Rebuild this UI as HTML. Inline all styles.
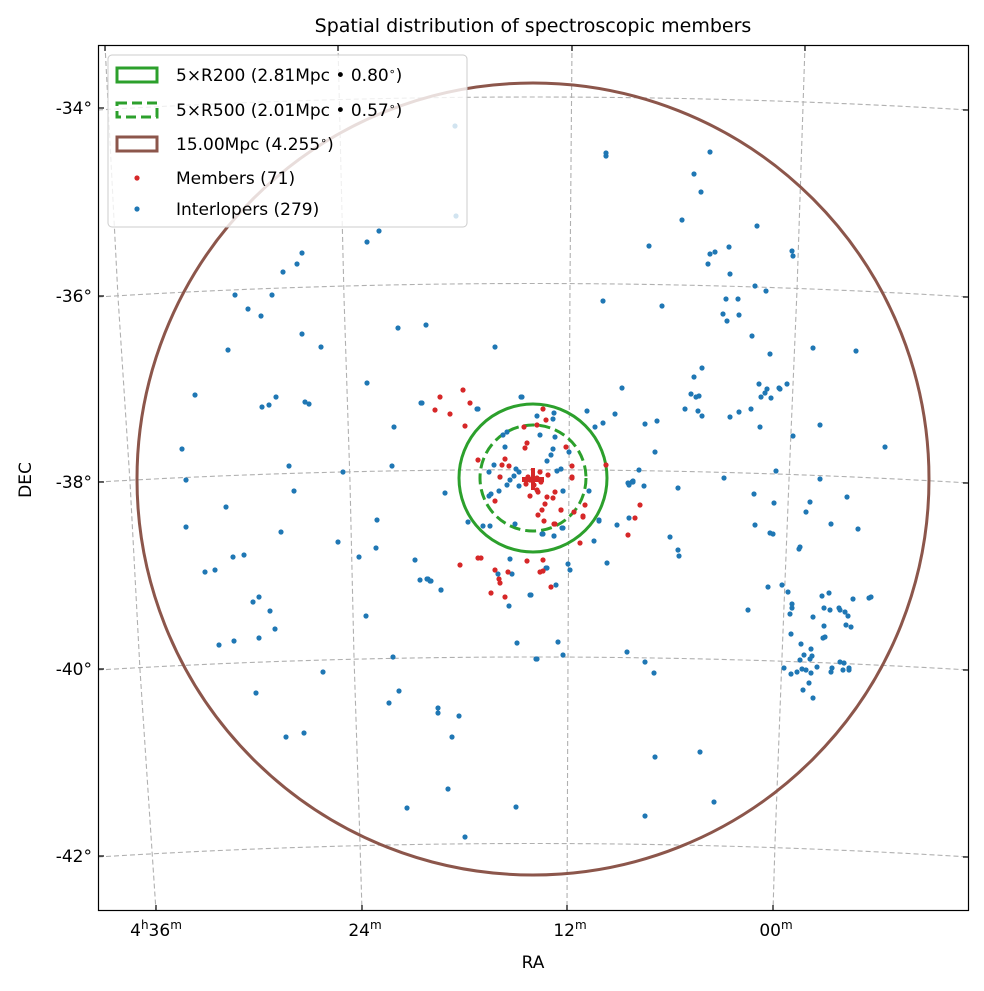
<!DOCTYPE html>
<html><head><meta charset="utf-8"><style>
body{margin:0;background:#fff}
svg text{font-family:"DejaVu Sans","Liberation Sans",sans-serif;fill:#000}
</style></head><body>
<svg width="984" height="986" viewBox="0 0 984 986" xmlns="http://www.w3.org/2000/svg">
<rect width="984" height="986" fill="#fff"/>
<text x="533" y="32" font-size="19" text-anchor="middle">Spatial distribution of spectroscopic members</text>
<defs><clipPath id="c"><rect x="98" y="45" width="871" height="866"/></clipPath></defs>
<g clip-path="url(#c)" fill="none" stroke="#b0b0b0" stroke-width="1.1" stroke-dasharray="5,3">
<path d="M98,110 Q533,84 969,110"/>
<path d="M98,297 Q533,270 969,297"/>
<path d="M98,482 Q533,457 969,483"/>
<path d="M98,670 Q533,644 969,670"/>
<path d="M98,857 Q533,830 969,857"/>
<polyline points="105,45 118,297 130,482 140,670 156,911"/>
<polyline points="338,45 344,297 350,482 354,657 360,843 362,911"/>
<polyline points="572,45 570,283 569,471 568,657 567,911"/>
<polyline points="805,45 797,290 789,480 782,657 775,843 773,911"/>
</g>
<g clip-path="url(#c)">
<circle cx="533" cy="479" r="396" fill="none" stroke="#8c564b" stroke-width="3"/>
<circle cx="533" cy="478" r="74" fill="none" stroke="#2ca02c" stroke-width="3"/>
<circle cx="533" cy="478" r="53" fill="none" stroke="#2ca02c" stroke-width="3" stroke-dasharray="11,5"/>
<g fill="#1f77b4">
<circle cx="455" cy="126" r="2.6"/><circle cx="456" cy="216" r="2.6"/>
<circle cx="379" cy="231" r="2.6"/><circle cx="367" cy="242" r="2.6"/><circle cx="302" cy="253" r="2.6"/><circle cx="297" cy="264" r="2.6"/><circle cx="283" cy="272" r="2.6"/><circle cx="235" cy="295" r="2.6"/><circle cx="272" cy="295" r="2.6"/><circle cx="248" cy="309" r="2.6"/><circle cx="261" cy="316" r="2.6"/><circle cx="302" cy="334" r="2.6"/><circle cx="321" cy="347" r="2.6"/><circle cx="228" cy="350" r="2.6"/><circle cx="398" cy="328" r="2.6"/><circle cx="426" cy="325" r="2.6"/><circle cx="495" cy="347" r="2.6"/><circle cx="367" cy="383" r="2.6"/><circle cx="195" cy="395" r="2.6"/><circle cx="262" cy="407" r="2.6"/><circle cx="269" cy="405" r="2.6"/><circle cx="276" cy="397" r="2.6"/><circle cx="305" cy="402" r="2.6"/><circle cx="309" cy="404" r="2.6"/><circle cx="421" cy="403" r="2.6"/><circle cx="477" cy="409" r="2.6"/><circle cx="521" cy="397" r="2.6"/><circle cx="394" cy="427" r="2.6"/><circle cx="182" cy="449" r="2.6"/><circle cx="289" cy="466" r="2.6"/><circle cx="343" cy="472" r="2.6"/><circle cx="392" cy="466" r="2.6"/><circle cx="186" cy="480" r="2.6"/>
<circle cx="606" cy="153" r="2.6"/><circle cx="606" cy="156" r="2.6"/><circle cx="710" cy="152" r="2.6"/><circle cx="694" cy="174" r="2.6"/><circle cx="701" cy="192" r="2.6"/><circle cx="682" cy="220" r="2.6"/><circle cx="757" cy="226" r="2.6"/><circle cx="649" cy="246" r="2.6"/><circle cx="729" cy="247" r="2.6"/><circle cx="710" cy="254" r="2.6"/><circle cx="715" cy="252" r="2.6"/><circle cx="708" cy="264" r="2.6"/><circle cx="792" cy="251" r="2.6"/><circle cx="793" cy="256" r="2.6"/><circle cx="730" cy="274" r="2.6"/><circle cx="755" cy="286" r="2.6"/><circle cx="766" cy="291" r="2.6"/><circle cx="603" cy="301" r="2.6"/><circle cx="662" cy="306" r="2.6"/><circle cx="726" cy="299" r="2.6"/><circle cx="738" cy="299" r="2.6"/><circle cx="723" cy="314" r="2.6"/><circle cx="739" cy="315" r="2.6"/><circle cx="727" cy="321" r="2.6"/><circle cx="752" cy="336" r="2.6"/><circle cx="813" cy="348" r="2.6"/><circle cx="856" cy="351" r="2.6"/><circle cx="770" cy="354" r="2.6"/><circle cx="702" cy="368" r="2.6"/><circle cx="694" cy="377" r="2.6"/><circle cx="622" cy="388" r="2.6"/><circle cx="759" cy="384" r="2.6"/><circle cx="767" cy="389" r="2.6"/><circle cx="765" cy="393" r="2.6"/><circle cx="761" cy="397" r="2.6"/><circle cx="771" cy="398" r="2.6"/><circle cx="779" cy="388" r="2.6"/><circle cx="780" cy="389" r="2.6"/><circle cx="787" cy="384" r="2.6"/><circle cx="691" cy="394" r="2.6"/><circle cx="696" cy="397" r="2.6"/><circle cx="699" cy="396" r="2.6"/><circle cx="587" cy="411" r="2.6"/><circle cx="615" cy="414" r="2.6"/><circle cx="603" cy="423" r="2.6"/><circle cx="595" cy="427" r="2.6"/><circle cx="685" cy="409" r="2.6"/><circle cx="698" cy="411" r="2.6"/><circle cx="702" cy="416" r="2.6"/><circle cx="730" cy="417" r="2.6"/><circle cx="739" cy="412" r="2.6"/><circle cx="751" cy="409" r="2.6"/><circle cx="645" cy="424" r="2.6"/><circle cx="657" cy="421" r="2.6"/><circle cx="760" cy="427" r="2.6"/><circle cx="820" cy="425" r="2.6"/><circle cx="793" cy="436" r="2.6"/><circle cx="885" cy="447" r="2.6"/><circle cx="655" cy="452" r="2.6"/><circle cx="639" cy="470" r="2.6"/><circle cx="776" cy="471" r="2.6"/><circle cx="724" cy="478" r="2.6"/><circle cx="820" cy="479" r="2.6"/><circle cx="633" cy="481" r="2.6"/><circle cx="628" cy="483" r="2.6"/>
<circle cx="294" cy="491" r="2.6"/><circle cx="226" cy="507" r="2.6"/><circle cx="186" cy="527" r="2.6"/><circle cx="281" cy="532" r="2.6"/><circle cx="338" cy="542" r="2.6"/><circle cx="377" cy="520" r="2.6"/><circle cx="376" cy="548" r="2.6"/><circle cx="359" cy="557" r="2.6"/><circle cx="233" cy="557" r="2.6"/><circle cx="244" cy="555" r="2.6"/><circle cx="205" cy="572" r="2.6"/><circle cx="215" cy="570" r="2.6"/><circle cx="253" cy="602" r="2.6"/><circle cx="259" cy="597" r="2.6"/><circle cx="270" cy="611" r="2.6"/><circle cx="275" cy="629" r="2.6"/><circle cx="219" cy="645" r="2.6"/><circle cx="234" cy="641" r="2.6"/><circle cx="259" cy="638" r="2.6"/><circle cx="366" cy="616" r="2.6"/><circle cx="415" cy="560" r="2.6"/><circle cx="420" cy="580" r="2.6"/><circle cx="427" cy="579" r="2.6"/><circle cx="430" cy="581" r="2.6"/><circle cx="441" cy="590" r="2.6"/><circle cx="445" cy="493" r="2.6"/><circle cx="510" cy="559" r="2.6"/><circle cx="498" cy="574" r="2.6"/><circle cx="512" cy="574" r="2.6"/><circle cx="530" cy="595" r="2.6"/><circle cx="509" cy="606" r="2.6"/><circle cx="517" cy="643" r="2.6"/><circle cx="536" cy="659" r="2.6"/><circle cx="393" cy="657" r="2.6"/><circle cx="323" cy="672" r="2.6"/><circle cx="256" cy="693" r="2.6"/><circle cx="399" cy="691" r="2.6"/><circle cx="389" cy="703" r="2.6"/><circle cx="438" cy="708" r="2.6"/><circle cx="438" cy="713" r="2.6"/><circle cx="459" cy="716" r="2.6"/><circle cx="452" cy="737" r="2.6"/><circle cx="286" cy="737" r="2.6"/><circle cx="304" cy="733" r="2.6"/><circle cx="448" cy="789" r="2.6"/><circle cx="407" cy="808" r="2.6"/><circle cx="516" cy="807" r="2.6"/><circle cx="465" cy="837" r="2.6"/>
<circle cx="754" cy="494" r="2.6"/><circle cx="774" cy="503" r="2.6"/><circle cx="810" cy="502" r="2.6"/><circle cx="806" cy="512" r="2.6"/><circle cx="847" cy="497" r="2.6"/><circle cx="755" cy="525" r="2.6"/><circle cx="831" cy="524" r="2.6"/><circle cx="858" cy="529" r="2.6"/><circle cx="770" cy="533" r="2.6"/><circle cx="773" cy="534" r="2.6"/><circle cx="670" cy="537" r="2.6"/><circle cx="800" cy="547" r="2.6"/><circle cx="799" cy="549" r="2.6"/><circle cx="678" cy="550" r="2.6"/><circle cx="679" cy="556" r="2.6"/><circle cx="644" cy="486" r="2.6"/><circle cx="678" cy="488" r="2.6"/><circle cx="629" cy="485" r="2.6"/><circle cx="633" cy="482" r="2.6"/><circle cx="563" cy="491" r="2.6"/><circle cx="589" cy="491" r="2.6"/><circle cx="599" cy="520" r="2.6"/><circle cx="617" cy="525" r="2.6"/><circle cx="629" cy="518" r="2.6"/><circle cx="594" cy="541" r="2.6"/><circle cx="607" cy="563" r="2.6"/><circle cx="568" cy="564" r="2.6"/><circle cx="570" cy="570" r="2.6"/><circle cx="546" cy="568" r="2.6"/><circle cx="556" cy="585" r="2.6"/><circle cx="562" cy="528" r="2.6"/><circle cx="554" cy="536" r="2.6"/><circle cx="542" cy="534" r="2.6"/><circle cx="531" cy="595" r="2.6"/><circle cx="768" cy="587" r="2.6"/><circle cx="782" cy="585" r="2.6"/><circle cx="788" cy="592" r="2.6"/><circle cx="792" cy="604" r="2.6"/><circle cx="792" cy="608" r="2.6"/><circle cx="790" cy="614" r="2.6"/><circle cx="748" cy="610" r="2.6"/><circle cx="822" cy="596" r="2.6"/><circle cx="829" cy="593" r="2.6"/><circle cx="853" cy="599" r="2.6"/><circle cx="869" cy="598" r="2.6"/><circle cx="871" cy="597" r="2.6"/><circle cx="824" cy="608" r="2.6"/><circle cx="830" cy="610" r="2.6"/><circle cx="839" cy="608" r="2.6"/><circle cx="840" cy="610" r="2.6"/><circle cx="845" cy="612" r="2.6"/><circle cx="848" cy="616" r="2.6"/><circle cx="813" cy="617" r="2.6"/><circle cx="824" cy="626" r="2.6"/><circle cx="846" cy="625" r="2.6"/><circle cx="851" cy="627" r="2.6"/><circle cx="823" cy="638" r="2.6"/><circle cx="825" cy="637" r="2.6"/><circle cx="791" cy="634" r="2.6"/><circle cx="801" cy="644" r="2.6"/><circle cx="811" cy="649" r="2.6"/><circle cx="804" cy="655" r="2.6"/><circle cx="812" cy="656" r="2.6"/><circle cx="800" cy="660" r="2.6"/><circle cx="810" cy="659" r="2.6"/><circle cx="817" cy="667" r="2.6"/><circle cx="784" cy="668" r="2.6"/><circle cx="791" cy="674" r="2.6"/><circle cx="797" cy="672" r="2.6"/><circle cx="802" cy="669" r="2.6"/><circle cx="806" cy="670" r="2.6"/><circle cx="811" cy="673" r="2.6"/><circle cx="832" cy="668" r="2.6"/><circle cx="831" cy="672" r="2.6"/><circle cx="840" cy="662" r="2.6"/><circle cx="844" cy="663" r="2.6"/><circle cx="843" cy="670" r="2.6"/><circle cx="849" cy="668" r="2.6"/><circle cx="849" cy="670" r="2.6"/><circle cx="809" cy="683" r="2.6"/><circle cx="803" cy="690" r="2.6"/><circle cx="813" cy="698" r="2.6"/><circle cx="558" cy="642" r="2.6"/><circle cx="563" cy="655" r="2.6"/><circle cx="537" cy="659" r="2.6"/><circle cx="627" cy="652" r="2.6"/><circle cx="645" cy="662" r="2.6"/><circle cx="654" cy="673" r="2.6"/><circle cx="655" cy="757" r="2.6"/><circle cx="700" cy="752" r="2.6"/><circle cx="714" cy="802" r="2.6"/><circle cx="645" cy="816" r="2.6"/>
<circle cx="522" cy="397" r="2.6"/><circle cx="478" cy="409" r="2.6"/><circle cx="422" cy="403" r="2.6"/><circle cx="537" cy="416" r="2.6"/><circle cx="554" cy="413" r="2.6"/><circle cx="553" cy="419" r="2.6"/><circle cx="540" cy="435" r="2.6"/><circle cx="555" cy="437" r="2.6"/><circle cx="503" cy="435" r="2.6"/><circle cx="507" cy="432" r="2.6"/><circle cx="505" cy="447" r="2.6"/><circle cx="553" cy="449" r="2.6"/><circle cx="551" cy="455" r="2.6"/><circle cx="547" cy="461" r="2.6"/><circle cx="569" cy="452" r="2.6"/><circle cx="494" cy="465" r="2.6"/><circle cx="489" cy="472" r="2.6"/><circle cx="500" cy="477" r="2.6"/><circle cx="516" cy="469" r="2.6"/><circle cx="519" cy="472" r="2.6"/><circle cx="514" cy="476" r="2.6"/><circle cx="510" cy="480" r="2.6"/><circle cx="507" cy="485" r="2.6"/><circle cx="519" cy="486" r="2.6"/><circle cx="499" cy="491" r="2.6"/><circle cx="491" cy="494" r="2.6"/><circle cx="489" cy="496" r="2.6"/><circle cx="557" cy="471" r="2.6"/><circle cx="561" cy="469" r="2.6"/><circle cx="563" cy="491" r="2.6"/><circle cx="515" cy="524" r="2.6"/><circle cx="490" cy="526" r="2.6"/><circle cx="483" cy="526" r="2.6"/><circle cx="468" cy="522" r="2.6"/><circle cx="543" cy="534" r="2.6"/><circle cx="554" cy="536" r="2.6"/><circle cx="563" cy="528" r="2.6"/><circle cx="599" cy="521" r="2.6"/><circle cx="632" cy="482" r="2.6"/><circle cx="547" cy="568" r="2.6"/><circle cx="428" cy="579" r="2.6"/><circle cx="431" cy="581" r="2.6"/><circle cx="441" cy="590" r="2.6"/>
</g>
<g fill="#d62728">
<circle cx="440" cy="397" r="2.6"/><circle cx="463" cy="390" r="2.6"/><circle cx="470" cy="403" r="2.6"/><circle cx="435" cy="410" r="2.6"/><circle cx="450" cy="414" r="2.6"/><circle cx="465" cy="426" r="2.6"/><circle cx="543" cy="409" r="2.6"/><circle cx="546" cy="420" r="2.6"/><circle cx="537" cy="425" r="2.6"/><circle cx="524" cy="427" r="2.6"/><circle cx="527" cy="443" r="2.6"/><circle cx="525" cy="448" r="2.6"/><circle cx="478" cy="460" r="2.6"/><circle cx="505" cy="459" r="2.6"/><circle cx="502" cy="465" r="2.6"/><circle cx="509" cy="466" r="2.6"/><circle cx="500" cy="477" r="2.6"/><circle cx="540" cy="472" r="2.6"/><circle cx="548" cy="475" r="2.6"/><circle cx="566" cy="447" r="2.6"/><circle cx="572" cy="466" r="2.6"/><circle cx="572" cy="477" r="2.6"/><circle cx="606" cy="465" r="2.6"/><circle cx="530" cy="480" r="2.6"/><circle cx="537" cy="478" r="2.6"/><circle cx="534" cy="485" r="2.6"/><circle cx="537" cy="490" r="2.6"/><circle cx="530" cy="496" r="2.6"/><circle cx="538" cy="492" r="2.6"/><circle cx="555" cy="492" r="2.6"/><circle cx="553" cy="498" r="2.6"/><circle cx="547" cy="497" r="2.6"/><circle cx="545" cy="504" r="2.6"/><circle cx="542" cy="510" r="2.6"/><circle cx="538" cy="515" r="2.6"/><circle cx="544" cy="521" r="2.6"/><circle cx="561" cy="510" r="2.6"/><circle cx="574" cy="512" r="2.6"/><circle cx="585" cy="505" r="2.6"/><circle cx="583" cy="517" r="2.6"/><circle cx="555" cy="524" r="2.6"/><circle cx="580" cy="543" r="2.6"/><circle cx="495" cy="501" r="2.6"/><circle cx="640" cy="505" r="2.6"/><circle cx="628" cy="535" r="2.6"/><circle cx="635" cy="518" r="2.6"/><circle cx="481" cy="558" r="2.6"/><circle cx="478" cy="558" r="2.6"/><circle cx="460" cy="565" r="2.6"/><circle cx="495" cy="570" r="2.6"/><circle cx="508" cy="572" r="2.6"/><circle cx="499" cy="579" r="2.6"/><circle cx="500" cy="583" r="2.6"/><circle cx="527" cy="561" r="2.6"/><circle cx="543" cy="560" r="2.6"/><circle cx="540" cy="572" r="2.6"/><circle cx="491" cy="593" r="2.6"/><circle cx="505" cy="597" r="2.6"/><circle cx="551" cy="587" r="2.6"/><circle cx="583" cy="516" r="2.6"/><circle cx="561" cy="510" r="2.6"/><circle cx="554" cy="524" r="2.6"/><circle cx="543" cy="571" r="2.6"/><circle cx="572" cy="478" r="2.6"/><circle cx="528" cy="477" r="2.6"/><circle cx="541" cy="482" r="2.6"/><circle cx="526" cy="484" r="2.6"/>
<rect x="531" y="468" width="4" height="22"/><rect x="522" y="477" width="22" height="5"/>
</g>
</g>
<!-- legend -->
<rect x="108" y="55" width="359" height="172" rx="4" fill="#fff" fill-opacity="0.8" stroke="#cccccc" stroke-width="1"/>
<rect x="117" y="68" width="40" height="14" fill="none" stroke="#2ca02c" stroke-width="3"/>
<rect x="117" y="103" width="40" height="14" fill="none" stroke="#2ca02c" stroke-width="3" stroke-dasharray="10,5"/>
<rect x="117" y="137" width="40" height="14" fill="none" stroke="#8c564b" stroke-width="3"/>
<circle cx="137" cy="178" r="2.6" fill="#d62728"/>
<circle cx="137" cy="209" r="2.6" fill="#1f77b4"/>
<g font-size="17">
<text x="176" y="81">5×R200 (2.81Mpc • 0.80<tspan font-size="11" dy="-6">∘</tspan><tspan dy="6">)</tspan></text>
<text x="176" y="116">5×R500 (2.01Mpc • 0.57<tspan font-size="11" dy="-6">∘</tspan><tspan dy="6">)</tspan></text>
<text x="176" y="150">15.00Mpc (4.255<tspan font-size="11" dy="-6">∘</tspan><tspan dy="6">)</tspan></text>
<text x="176" y="184">Members (71)</text>
<text x="176" y="215">Interlopers (279)</text>
</g>
<!-- axes frame & ticks -->
<rect x="98.5" y="45.5" width="870" height="865" fill="none" stroke="#000" stroke-width="1.2"/>
<g stroke="#000" stroke-width="1.2">
<line x1="98" y1="108" x2="104" y2="108"/><line x1="98" y1="296" x2="104" y2="296"/><line x1="98" y1="482" x2="104" y2="482"/><line x1="98" y1="669" x2="104" y2="669"/><line x1="98" y1="856" x2="104" y2="856"/>
<line x1="969" y1="110" x2="963" y2="110"/><line x1="969" y1="297" x2="963" y2="297"/><line x1="969" y1="483" x2="963" y2="483"/><line x1="969" y1="670" x2="963" y2="670"/><line x1="969" y1="857" x2="963" y2="857"/>
<line x1="156" y1="911" x2="156" y2="905"/><line x1="362" y1="911" x2="362" y2="905"/><line x1="567" y1="911" x2="567" y2="905"/><line x1="773" y1="911" x2="773" y2="905"/>
<line x1="105" y1="45" x2="105" y2="51"/><line x1="338" y1="45" x2="338" y2="51"/><line x1="572" y1="45" x2="572" y2="51"/><line x1="805" y1="45" x2="805" y2="51"/>
</g>
<g font-size="17" text-anchor="end">
<text x="92" y="114">-34°</text><text x="92" y="302">-36°</text><text x="92" y="488">-38°</text><text x="92" y="675">-40°</text><text x="92" y="862">-42°</text>
</g>
<g font-size="17" text-anchor="middle">
<text x="156" y="936">4<tspan font-size="12" dy="-7">h</tspan><tspan dy="7">36</tspan><tspan font-size="12" dy="-7">m</tspan></text>
<text x="365" y="936">24<tspan font-size="12" dy="-7">m</tspan></text>
<text x="570" y="936">12<tspan font-size="12" dy="-7">m</tspan></text>
<text x="776" y="936">00<tspan font-size="12" dy="-7">m</tspan></text>
<text x="533" y="968">RA</text>
<text transform="translate(31,480) rotate(-90)">DEC</text>
</g>
</svg>
</body></html>
